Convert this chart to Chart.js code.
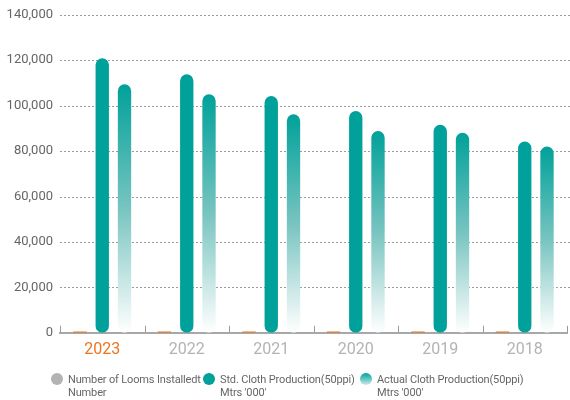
<!DOCTYPE html>
<html>
<head>
<meta charset="utf-8">
<script src="https://cdn.jsdelivr.net/npm/chart.js@4/dist/chart.umd.min.js"></script>
<style>
  body { margin: 0; background: #fff; font-family: Roboto, sans-serif; }
  #wrap { position: relative; width: 570px; height: 400px; }
  #legend { position: absolute; left: 0; top: 373px; width: 570px; height: 27px; }
  .item { position: absolute; top: 0; display: flex; align-items: flex-start; font-size: 11px; letter-spacing: -0.15px; line-height: 13px; color: #666; white-space: nowrap; }
  .dot { width: 12px; height: 12px; border-radius: 50%; margin-right: 5px; margin-top: 0; flex: none; }
</style>
</head>
<body>
<div id="wrap">
  <canvas id="chartCanvas" width="570" height="400"></canvas>
  <div id="legend"></div>
</div>
<script>
// data
const years = ['2023', '2022', '2021', '2020', '2019', '2018'];
const looms = [600, 600, 600, 600, 600, 600];
const stdCloth = [120900, 113800, 104200, 97600, 91600, 84200];
const actualCloth = [109400, 105000, 96200, 88800, 88100, 82000];
const yTicks = [0, 20000, 40000, 60000, 80000, 100000, 120000, 140000];

const legendItems = [
  { label: ['Number of Looms Installedt', 'Number'], color: '#b3b3b3', left: 51 },
  { label: ["Std. Cloth Production(50ppi)", "Mtrs '000'"], color: '#00a19a', left: 203 },
  { label: ["Actual Cloth Production(50ppi)", "Mtrs '000'"], color: 'linear-gradient(#00a19a, #c9ebe9)', left: 360 }
];

const teal = '#00a19a';
const orange = '#e8721f';

const legend = document.getElementById('legend');
legendItems.forEach(it => {
  const d = document.createElement('div');
  d.className = 'item';
  d.style.left = it.left + 'px';
  d.innerHTML = `<span class="dot" style="background:${it.color}"></span><span>${it.label.join('<br>')}</span>`;
  legend.appendChild(d);
});

function fadeFill(ctx){
  const chart = ctx.chart;
  const area = chart.chartArea;
  if(!area || ctx.raw == null) return teal;
  const top = chart.scales.y.getPixelForValue(ctx.raw);
  const g = chart.ctx.createLinearGradient(0, top, 0, area.bottom);
  g.addColorStop(0, 'rgba(0,161,154,1)');
  g.addColorStop(0.5, 'rgba(120,196,192,1)');
  g.addColorStop(1, 'rgba(255,255,255,1)');
  return g;
}

// dotted horizontal grid lines, drawn under the bars
const dottedGrid = {
  id: 'dottedGrid',
  beforeDatasetsDraw(chart){
    const y = chart.scales.y;
    const c = chart.ctx;
    c.save();
    c.strokeStyle = '#9c9c9c';
    c.lineWidth = 1;
    c.setLineDash([2, 2]);
    yTicks.forEach(v => {
      if(v === 0) return;
      const py = Math.round(y.getPixelForValue(v)) + 0.5;
      c.beginPath();
      c.moveTo(chart.chartArea.left, py);
      c.lineTo(chart.width, py);
      c.stroke();
    });
    c.restore();
  }
};

// small upward ticks at the category boundaries
const boundaryTicks = {
  id: 'boundaryTicks',
  afterDatasetsDraw(chart){
    const x = chart.scales.x;
    const c = chart.ctx;
    c.save();
    c.strokeStyle = '#9a9a9a';
    c.lineWidth = 1;
    for(let i = 0; i <= years.length; i++){
      const px = Math.round(x.getPixelForValue(i - 0.5)) + 0.5;
      c.beginPath();
      c.moveTo(px, x.top);
      c.lineTo(px, x.top - 7);
      c.stroke();
    }
    c.restore();
  }
};

new Chart(document.getElementById('chartCanvas').getContext('2d'), {
  type: 'bar',
  data: {
    labels: years,
    datasets: [
      { label: 'Number of Looms Installedt Number', data: looms, backgroundColor: orange,
        barPercentage: 0.6, categoryPercentage: 0.79 },
      { label: "Std. Cloth Production(50ppi) Mtrs '000'", data: stdCloth, backgroundColor: teal,
        borderRadius: 20, borderSkipped: false, barPercentage: 0.6, categoryPercentage: 0.79 },
      { label: "Actual Cloth Production(50ppi) Mtrs '000'", data: actualCloth, backgroundColor: fadeFill,
        borderRadius: 20, borderSkipped: false, barPercentage: 0.6, categoryPercentage: 0.79 }
    ]
  },
  options: {
    responsive: false,
    animation: false,
    layout: { padding: { top: 8, right: 3, bottom: 32, left: 0 } },
    plugins: { legend: { display: false }, tooltip: { enabled: false } },
    scales: {
      x: {
        grid: { display: false, drawTicks: false },
        border: { display: true, color: '#a8a8a8', width: 2 },
        ticks: {
          padding: 8,
          font: { family: 'Roboto', size: 16 },
          color: ctx => ctx.index === 0 ? '#f07320' : '#b3b3b3'
        }
      },
      y: {
        min: 0, max: 140000,
        afterFit: s => { s.width = 60; },
        afterBuildTicks: s => { s.ticks = yTicks.map(v => ({ value: v })); },
        grid: { display: false, drawTicks: false },
        border: { display: false },
        ticks: {
          padding: 7,
          font: { family: 'Roboto', size: 13 },
          color: '#666',
          callback: v => v.toLocaleString('en-US')
        }
      }
    }
  },
  plugins: [dottedGrid, boundaryTicks]
});
</script>
</body>
</html>
